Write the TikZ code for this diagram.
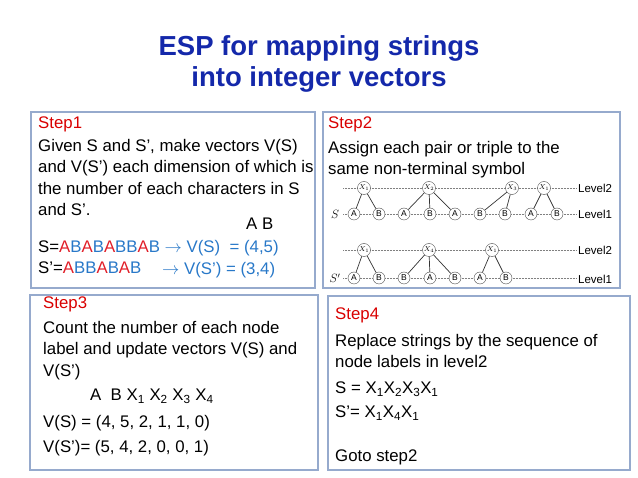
\documentclass[tikz,border=0pt]{standalone}
\usepackage{fontspec}
\setmainfont{Liberation Sans}
\begin{document}
\begin{tikzpicture}[x=1pt,y=-1pt,
  panel/.style={draw=pcol, line width=1.2pt},
  body/.style={anchor=north west, align=left, inner sep=0pt, font=\fontsize{16.8}{21.5}\selectfont},
  steplab/.style={anchor=north west, inner sep=0pt, text=red!85!black, font=\fontsize{16.8}{19}\selectfont},
  leaf/.style={circle, draw=black!70, inner sep=0pt, minimum size=12pt, font=\fontsize{8.5}{9}\selectfont},
  nt/.style={circle, draw=black!70, fill=white, inner sep=0pt, minimum size=13pt, font=\fontsize{7.5}{8}\selectfont},
  lvl/.style={anchor=west, inner sep=0pt, font=\fontsize{11.5}{12}\selectfont},
  dot/.style={densely dotted, gray, line width=0.5pt},
  edge/.style={black!80, line width=0.7pt}]
\useasboundingbox (0,0) rectangle (638,478);
\definecolor{ttl}{RGB}{20,40,170}
\definecolor{bl}{RGB}{40,120,200}
\definecolor{rd}{RGB}{225,30,40}
\definecolor{pcol}{RGB}{150,170,205}
\newcommand{\sbs}[1]{\textsubscript{#1}}
\node[font=\fontsize{27.5}{31}\selectfont\bfseries, text=ttl, align=center] (title) at (319,64) {ESP for mapping strings\\into integer vectors};
% panels
\draw[panel] (31,112) rectangle (315,288);
\draw[panel] (323,112) rectangle (620,288);
\draw[panel] (30,295) rectangle (318,470);
\draw[panel] (328,296) rectangle (630,470);
% step1
\node[steplab] (s1) at (38,117) {Step1};
\node[body] (t1) at (38,139) {Given S and S', make vectors V(S)\\and V(S') each dimension of which is\\the number of each characters in S\\and S'.};
\node[body] (ab) at (246,218) {A B};
\node[body] (l1) at (38,240) {S=\textcolor{rd}{A}\textcolor{bl}{B}\textcolor{rd}{A}\textcolor{bl}{B}\textcolor{rd}{A}\textcolor{bl}{BB}\textcolor{rd}{A}\textcolor{bl}{B} \textcolor{bl}{$\rightarrow$ V(S)\ \ = (4,5)}};
\node[body] (l2) at (38,262) {S'=\textcolor{rd}{A}\textcolor{bl}{BB}\textcolor{rd}{A}\textcolor{bl}{B}\textcolor{rd}{A}\textcolor{bl}{B}};
\node[body, text=bl] (l2b) at (162,262) {$\rightarrow$ V(S') = (3,4)};
% step2
\node[steplab] (s2) at (328,117) {Step2};
\node[body] (t2) at (328,141) {Assign each pair or triple to the\\same non-terminal symbol};
% tree S
\draw[dot] (343,188) -- (576,188);
\draw[dot] (343,214) -- (576,214);
\node[font=\itshape\fontsize{12}{12}\selectfont, fill=white, inner sep=1pt] (S) at (335,214) {$S$};
\foreach \n/\x/\l in {a1/354/A,a2/379/B,a3/404/A,a4/430/B,a5/455/A,a6/480/B,a7/505/B,a8/531/A,a9/557/B}
  \node[leaf, fill=white] (\n) at (\x,214) {\l};
\node[nt] (x1) at (364,188) {$X_1$};
\node[nt] (x2) at (429,188) {$X_2$};
\node[nt] (x3) at (512,188) {$X_3$};
\node[nt] (x4) at (544,188) {$X_1$};
\foreach \p/\c in {x1/a1,x1/a2,x2/a3,x2/a4,x2/a5,x3/a6,x3/a7,x4/a8,x4/a9} \draw[edge] (\p) -- (\c);
\node[lvl] (L2a) at (578,188) {Level2};
\node[lvl] (L1a) at (578,214) {Level1};
% tree S'
\draw[dot] (343,250) -- (576,250);
\draw[dot] (343,278) -- (576,278);
\node[font=\fontsize{12}{12}\selectfont, fill=white, inner sep=1pt] (Sp) at (335,278) {$S'$};
\foreach \n/\x/\l in {b1/354/A,b2/379/B,b3/404/B,b4/430/A,b5/455/B,b6/480/A,b7/506/B}
  \node[leaf, fill=white] (\n) at (\x,278) {\l};
\node[nt] (y1) at (364,250) {$X_1$};
\node[nt] (y2) at (429,250) {$X_4$};
\node[nt] (y3) at (492,250) {$X_1$};
\foreach \p/\c in {y1/b1,y1/b2,y2/b3,y2/b4,y2/b5,y3/b6,y3/b7} \draw[edge] (\p) -- (\c);
\node[lvl] (L2b) at (578,250) {Level2};
\node[lvl] (L1b) at (578,279) {Level1};
% step3
\node[steplab] (s3) at (43,297) {Step3};
\node[body] (t3) at (43,321) {Count the number of each node\\label and update vectors V(S) and\\V(S')};
\node[body] (h3) at (90,389) {A\ \ B X\sbs{1} X\sbs{2} X\sbs{3} X\sbs{4}};
\node[body] (v1) at (43,415) {V(S) = (4, 5, 2, 1, 1, 0)};
\node[body] (v2) at (43,440) {V(S')= (5, 4, 2, 0, 0, 1)};
% step4
\node[steplab] (s4) at (335,308) {Step4};
\node[body] (t4) at (335,334) {Replace strings by the sequence of\\node labels in level2};
\node[body] (e1) at (335,382) {S = X\sbs{1}X\sbs{2}X\sbs{3}X\sbs{1}};
\node[body] (e2) at (335,406) {S'= X\sbs{1}X\sbs{4}X\sbs{1}};
\node[body] (g) at (335,450) {Goto step2};
\end{tikzpicture}
\end{document}
